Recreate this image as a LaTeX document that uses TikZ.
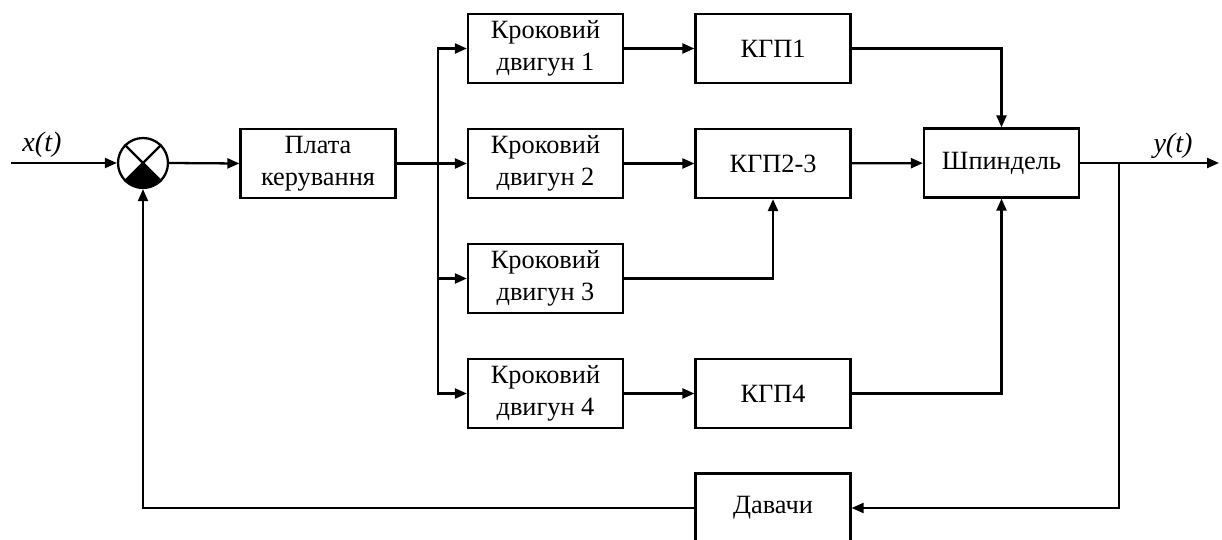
\documentclass[tikz,border=0pt]{standalone}
\usepackage{fontspec}
\setmainfont{Liberation Serif}
\usetikzlibrary{arrows.meta}
\begin{document}
\begin{tikzpicture}[x=0.02cm,y=-0.02cm,
  line width=1.3pt,
  blk/.style={draw,line width=1.3pt,minimum width=3.1cm,minimum height=1.38cm,inner sep=0pt,align=center,font=\fontsize{15}{18}\selectfont},
  arr/.style={-{Triangle[length=0.24cm,width=0.2cm]}},
  lbl/.style={font=\fontsize{16}{18}\selectfont\itshape,anchor=base,inner sep=0pt}]
\useasboundingbox (0,0) rectangle (1222,540);
\node[draw,circle,minimum size=1cm,inner sep=0pt,line width=1.3pt] (sum) at (143,163) {};
\fill (sum.center) -- ++(-135:0.5cm) arc[start angle=-135,end angle=-45,radius=0.5cm] -- cycle;
\draw (sum.45) -- (sum.225) (sum.135) -- (sum.-45);
\node[blk] (plata) at (318,163.5) {Плата\\керування};
\node[blk] (k1) at (545.5,48.5) {Кроковий\\двигун 1};
\node[blk] (k2) at (545.5,163.5) {Кроковий\\двигун 2};
\node[blk] (k3) at (545.5,278.5) {Кроковий\\двигун 3};
\node[blk] (k4) at (545.5,393.5) {Кроковий\\двигун 4};
\node[blk] (g1) at (773,48.5) {КГП1};
\node[blk] (g23) at (773,163.5) {КГП2-3};
\node[blk] (g4) at (773,393.5) {КГП4};
\node[blk] (sp) at (1001.5,163) {Шпиндель};
\node[blk] (dav) at (773,508) {Давачи};
\coordinate (xin) at (11,163);
\coordinate (br) at (438,163.5);
\coordinate (ob) at (1119,163);
\coordinate (yout) at (1219,163);
\node[lbl] (xl) at (42,152) {x(t)};
\node[lbl] (yl) at (1173,153) {y(t)};
\draw[arr] (xin) -- (sum.west);
\draw[arr] (sum.east) -- (plata.west);
\draw (plata.east) -- (br);
\draw[arr] (br) -- (k2.west);
\draw[arr] (br) |- (k1.west);
\draw[arr] (br) |- (k3.west);
\draw[arr] (br) |- (k4.west);
\draw[arr] (k1) -- (g1);
\draw[arr] (k2) -- (g23);
\draw[arr] (k4) -- (g4);
\draw[arr] (g1.east) -| (sp.north);
\draw[arr] (g23) -- (sp);
\draw[arr] (k3.east) -| (g23.south);
\draw[arr] (g4.east) -| (sp.south);
\draw[arr] (sp.east) -- (yout);
\draw[arr] (ob) |- (dav.east);
\draw[arr] (dav.west) -| (sum.south);
\end{tikzpicture}
\end{document}
